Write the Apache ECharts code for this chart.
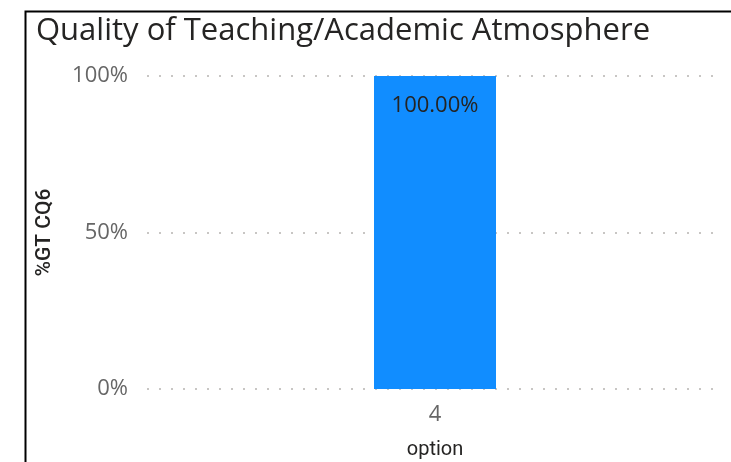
<!DOCTYPE html>
<html><head><meta charset="utf-8">
<script src="https://cdn.jsdelivr.net/npm/echarts@6/dist/echarts.min.js"></script>
<style>html,body{margin:0;padding:0;background:#fff}#c{width:731px;height:462px}</style>
</head><body><div id="c"></div>
<script>
const titleText = "Quality of Teaching/Academic Atmosphere";
const categories = ["4"];
const values = [100];
const yTicks = [0, 50, 100];
const xName = "option";
const yName = "%GT CQ6";

const chart = echarts.init(document.getElementById('c'), null, {renderer: 'canvas'});
chart.setOption({
  animation: false,
  backgroundColor: '#fff',
  title: {
    text: titleText, left: 31, top: 11,
    textStyle: {fontFamily: 'Open Sans', fontSize: 31, fontWeight: 'normal', color: '#252423'}
  },
  graphic: [{
    type: 'rect', left: 23, top: 9, shape: {x: 0, y: 0, width: 900, height: 700},
    style: {fill: 'none', stroke: '#000', lineWidth: 2}, silent: true
  }],
  grid: {left: 147, right: 8, top: 76, bottom: 73, containLabel: false, outerBoundsMode: 'none'},
  xAxis: {
    type: 'category', data: categories,
    name: xName, nameLocation: 'middle', nameGap: 51,
    nameTextStyle: {fontFamily: 'Roboto', fontSize: 20, color: '#252423'},
    axisLine: {show: false}, axisTick: {show: false},
    axisLabel: {fontFamily: 'Open Sans', fontSize: 22, color: '#666666', margin: 15}
  },
  yAxis: {
    type: 'value', min: yTicks[0], max: yTicks[yTicks.length - 1], interval: 50,
    name: yName, nameLocation: 'middle', nameGap: 92, nameRotate: 90,
    nameTextStyle: {fontFamily: 'Roboto', fontSize: 21, fontWeight: 500, color: '#252423'},
    axisLine: {show: false}, axisTick: {show: false},
    axisLabel: {formatter: v => v + '%', fontFamily: 'Open Sans', fontSize: 22, color: '#666666', margin: 19},
    splitLine: {lineStyle: {type: [2, 10], color: '#c8c6c4', width: 2}}
  },
  series: [{
    type: 'bar', data: values, barWidth: 122,
    itemStyle: {color: '#118DFF'},
    label: {show: true, position: 'insideTop', distance: 19, formatter: p => p.value.toFixed(2) + '%',
      fontFamily: 'Open Sans', fontSize: 22, color: '#252423'}
  }]
});
</script></body></html>
